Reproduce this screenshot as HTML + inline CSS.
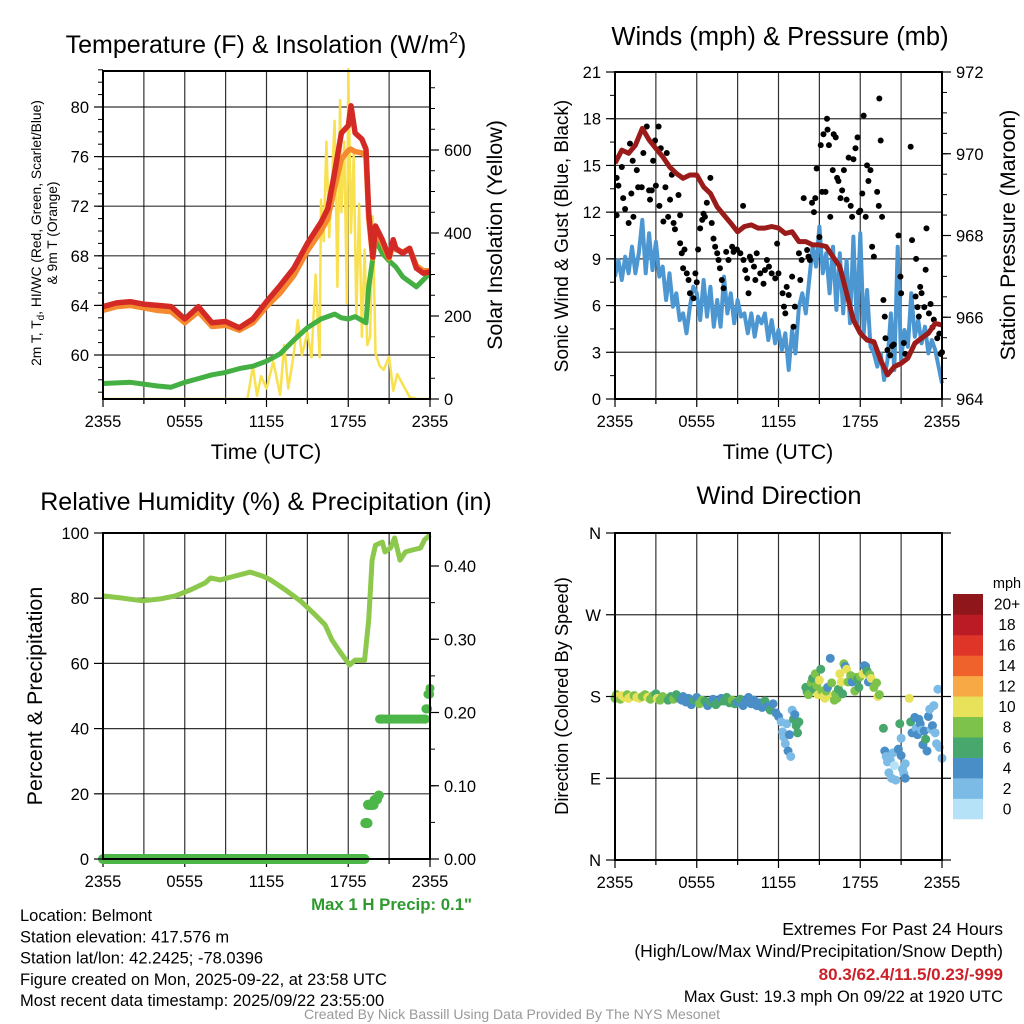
<!DOCTYPE html>
<html><head><meta charset="utf-8"><style>
html,body{margin:0;padding:0;background:#fff;}
svg{display:block;font-family:"Liberation Sans",Arial,sans-serif;}
</style></head><body>
<svg id="svg" width="1024" height="1024" viewBox="0 0 1024 1024" xmlns="http://www.w3.org/2000/svg">
<g id="g"></g>
</svg>
<script>
// ---- Panel 1 data (hours since 2355) ----
const tempHours=[0,1,2,3,4,5,6,7,8,9,10,11,12,13,14,15,16,16.5,17,17.5,18,18.2,18.5,19,19.3,19.5,19.8,20,20.5,21,21.3,21.5,22,22.5,23,23.5,24];
const tempRed=[63.9,64.2,64.3,64.1,64.0,63.9,62.9,63.9,62.6,62.7,62.2,62.9,64.3,65.6,67.0,69.0,70.7,71.8,74.7,77.9,78.5,80.1,77.9,77.4,76.6,71.5,67.9,70.4,69.3,67.9,69.3,68.6,68.2,68.6,67.0,66.6,66.7];
const tempOrange=[63.6,63.9,64.0,63.8,63.6,63.5,62.6,63.5,62.3,62.4,62.0,62.6,63.9,65.0,66.4,68.4,70.0,71.0,73.5,75.8,76.5,76.6,76.4,76.3,76.0,71.0,67.8,70.0,69.0,67.8,69.0,68.5,68.3,68.6,67.2,66.8,66.8];
const dewHours=[0,2,4,5,6,7,8,9,10,11,12,13,14,15,16,17,17.5,18,18.5,19,19.3,19.5,20,20.5,21,21.5,22,23,24];
const dewGreen=[57.7,57.8,57.5,57.4,57.8,58.1,58.4,58.6,58.9,59.1,59.5,60.1,61.2,62.2,62.9,63.3,63.0,62.9,63.1,62.8,62.6,65.5,69.3,68.2,67.6,67.1,66.3,65.5,66.6];
const solarHours=[0,10.6,11,11.3,11.6,12,12.5,13,13.3,13.6,14,14.3,14.6,15,15.3,15.6,15.9,16,16.2,16.4,16.6,16.8,17,17.2,17.4,17.5,17.7,17.9,18,18.2,18.4,18.6,18.8,19,19.2,19.4,19.6,19.8,20,20.3,20.6,21,21.3,21.6,22,22.5,23,24];
const solarW=[0,0,78,8,55,25,90,10,130,25,110,190,105,160,100,300,100,480,380,620,390,520,670,270,720,450,620,230,795,400,590,200,470,150,360,130,150,440,110,80,70,102,20,60,35,5,0,0];
const tempTicks=[60,64,68,72,76,80];
const solarTicks=[0,200,400,600];
const timeLabels=["2355","0555","1155","1755","2355"];
// ---- Panel 2 data ----
const presHours=[0,0.5,1,1.5,2,2.5,3,3.5,4,4.5,5,5.5,6,6.5,7,7.5,8,8.5,9,9.5,10,10.5,11,11.5,12,12.5,13,13.5,14,14.5,15,15.5,16,16.5,17,17.5,18,18.5,19,19.5,20,20.5,21,21.5,22,22.5,23,23.5,24];
const presMb=[969.77,970.09,970.01,970.21,970.62,970.34,970.13,969.93,969.68,969.52,969.40,969.48,969.48,969.19,969.03,968.70,968.50,968.30,968.09,968.22,968.26,968.18,968.18,968.22,968.18,968.05,968.09,967.85,967.85,967.77,967.77,967.73,967.48,967.24,966.59,965.93,965.61,965.44,965.40,964.95,964.59,964.79,964.87,965.00,965.36,965.49,965.61,965.85,965.81];
const windSpeed=[7.86,8.93,7.64,9.14,8.07,9.78,8.07,9.36,11.5,8.07,10.64,8.28,10.1,7.86,8.5,6.36,8.07,5.93,6.79,5.07,5.5,4.22,5.93,7.21,6.79,5.07,7.64,5.29,7.21,4.64,6.36,4.64,7.86,5.5,6.79,4.86,6.36,5.29,5.5,4.22,5.5,4.0,5.29,4.86,5.5,3.79,5.07,3.58,4.43,3.15,4.22,1.86,4.43,2.93,5.93,6.79,5.5,7.64,9.78,8.5,11.07,8.07,9.36,6.79,9.78,5.72,9.36,5.5,8.93,4.86,10.43,4.64,10.64,4.22,7.0,3.36,2.93,2.08,2.93,1.22,2.5,5.5,1.86,9.78,2.5,4.43,3.36,6.79,4.0,5.07,3.58,4.64,2.93,3.79,3.15,2.08,1.0];
const gustHours=[0.12,0.12,0.25,0.5,0.6,0.74,1.1,1.3,1.35,1.0,1.2,1.6,1.7,1.96,2.08,2.33,2.5,2.57,2.7,2.8,2.94,3.0,3.2,3.26,3.36,3.55,3.7,3.8,3.9,4.04,4.17,4.3,4.4,4.66,4.78,4.78,4.9,5.1,5.0,5.27,5.4,5.5,5.76,5.9,6.0,6.1,6.25,6.4,6.5,6.6,6.74,7.0,7.1,7.23,7.35,7.5,7.6,7.7,7.84,7.97,8.16,8.33,8.6,8.7,8.95,9.2,9.4,9.43,9.56,9.7,9.8,9.9,10.0,10.2,10.3,10.4,10.66,10.9,11.0,11.15,11.3,11.5,11.76,11.9,12.0,12.3,12.4,12.5,12.6,12.75,13.0,13.1,13.2,13.5,13.6,13.7,13.85,14.1,14.2,14.3,14.46,14.6,14.7,14.8,15.0,15.1,15.2,15.3,15.45,15.56,15.6,15.7,15.8,15.98,16.05,16.2,16.3,16.4,16.55,16.67,16.8,17.0,17.15,17.3,17.4,17.5,17.65,17.8,17.9,18.0,18.15,18.25,18.4,18.5,18.6,18.75,18.87,19.0,19.24,19.36,19.4,19.5,19.6,19.7,19.8,19.85,20.0,20.2,20.34,20.46,20.8,20.95,21.0,21.2,21.3,21.7,21.8,22.06,22.1,22.2,22.3,22.4,22.5,22.7,22.8,22.86,23.04,23.16,23.3,23.4,23.65,23.8,23.9,24.0];
const gustMph=[14.2,11.8,13.7,14.9,12.9,12.2,16.4,15.3,11.7,11.3,13.2,14.7,13.6,13.6,15.8,17.5,13.4,12.8,13.4,15.3,16.6,13.7,17.5,12.4,16.1,11.4,13.6,15.8,11.7,12.8,14.4,11.3,10.9,13.1,11.8,10.0,9.36,9.6,8.4,8.07,7.64,6.79,6.47,8.07,7.5,9.6,10.96,11.5,11.9,11.7,12.6,14.2,11.3,10.3,9.78,9.36,8.93,8.4,7.64,7.11,9.45,8.93,9.78,9.45,9.6,9.36,12.4,8.93,8.28,7.75,6.79,9.14,8.93,8.5,7.64,9.36,8.07,7.4,8.28,8.93,8.5,8.07,7.75,9.98,8.07,6.79,5.93,5.5,7.2,6.68,7.86,4.64,5.93,9.36,7.64,8.93,12.9,9.57,9.14,8.93,12.6,12.0,12.9,14.8,10.4,16.3,13.3,17.0,13.3,18.0,17.3,16.3,11.7,14.7,17.0,16.8,14.2,14.0,12.9,13.4,14.7,12.8,15.5,12.4,11.7,15.4,16.1,16.8,12.0,12.1,13.2,18.2,11.7,15.0,14.0,14.7,9.78,9.14,13.3,12.4,19.3,16.6,11.7,6.36,5.29,3.9,3.15,2.8,3.4,3.5,10.5,7.86,6.79,3.6,2.9,16.2,10.2,6.58,9.0,5.9,5.3,7.2,6.8,5.9,8.3,10.96,5.5,6.1,4.6,5.1,3.9,4.2,2.9,3.0];
const windTicks=[0,3,6,9,12,15,18,21];
const presTicks=[964,966,968,970,972];
// ---- Panel 3 data ----
const rhHours=[0,1.3,2.9,4.2,5.3,6.4,7.5,7.9,8.6,9.7,10.8,11.7,12.3,13.4,14.5,15.6,16.3,16.8,17.4,18.1,18.5,19.2,19.5,19.75,20,20.5,20.7,21.1,21.4,21.8,22.2,22.7,23.3,23.6,24];
const rhPct=[80.7,80.1,79.2,79.8,80.7,82.5,84.7,86.2,85.6,86.8,88,86.8,85.6,82.5,79.1,74.8,71.8,67.2,63.5,59.5,61,61,73.3,91.7,96.3,97.2,94.2,95.4,98.5,91.7,94.2,94.8,95.4,97.9,99.4];
const precipHours=[0,19.2,19.25,19.45,19.7,19.9,20.2,20.3,20.5,21,21.5,22,22.5,23,23.5,23.7,23.85,24];
const precipIn=[0,0,0.049,0.074,0.074,0.081,0.087,0.191,0.191,0.191,0.191,0.191,0.191,0.191,0.191,0.205,0.225,0.233];
const rhTicks=[0,20,40,60,80,100];
const precipTicks=[0,0.1,0.2,0.3,0.4];
const precipTickLabels=["0.00","0.10","0.20","0.30","0.40"];
// ---- Panel 4 data ----
const dirHours=[0,0.1,0.25,0.4,0.5,0.7,0.9,1.0,1.2,1.4,1.6,1.8,2.0,2.2,2.4,2.6,2.8,3.0,3.1,3.3,3.5,3.7,3.9,4.1,4.3,4.5,4.7,4.9,5.0,5.2,5.4,5.6,5.8,6.0,6.2,6.4,6.6,6.8,7.0,7.2,7.4,7.6,7.8,8.0,8.2,8.4,8.6,8.8,9.0,9.2,9.4,9.6,9.8,10.0,10.2,10.4,10.6,10.8,11.0,11.2,11.4,11.6,11.8,12.0,12.2,12.3,12.4,12.5,12.6,12.7,12.8,12.9,13.0,13.1,13.2,13.3,13.4,13.5,14.0,14.1,14.2,14.4,14.5,14.6,14.7,14.8,14.9,15.0,15.1,15.2,15.3,15.4,15.5,15.6,15.8,15.9,16.0,16.1,16.2,16.3,16.4,16.5,16.6,16.7,16.8,16.9,17.0,17.1,17.3,17.4,17.6,17.7,17.8,17.9,18.0,18.2,18.3,18.4,18.5,18.6,18.7,18.8,19.0,19.2,19.3,19.4,19.7,19.8,19.9,20.0,20.1,20.2,20.3,20.4,20.5,20.6,20.8,20.9,21.0,21.0,21.1,21.2,21.3,21.3,21.6,21.7,21.8,22.0,22.1,22.2,22.3,22.4,22.5,22.6,22.7,22.8,22.9,23.0,23.1,23.2,23.3,23.4,23.5,23.6,23.7,23.8,24.0];
const dirDeg=[178,182,180,177,181,179,182,178,180,181,179,178,180,182,179,177,181,183,178,176,180,178,176,180,177,182,178,176,180,174,178,171,176,179,172,176,175,170,174,177,171,174,178,175,179,173,176,172,174,177,170,175,179,172,176,170,173,168,175,169,165,172,162,158,152,141,135,128,150,120,138,114,165,155,160,148,140,152,190,185,182,195,200,188,205,192,182,198,210,186,180,178,186,190,222,195,180,176,183,178,188,205,196,183,216,213,210,196,203,196,186,201,199,190,202,205,214,213,208,196,204,200,190,195,180,182,145,120,114,108,96,110,90,118,104,88,122,150,134,115,100,95,106,90,178,152,140,157,145,138,155,150,143,127,142,133,120,158,166,144,148,170,140,128,188,124,112];
const dirSpeed=[8,9,10,9,10,11,9,10,11,9,10,11,9,8,10,9,8,7,10,9,8,9,7,6,8,7,6,5,5,4,5,4,6,5,8,9,7,5,6,5,7,6,5,7,6,6,8,7,5,6,5,5,4,4,5,5,4,5,6,5,7,4,5,4,3,2,3,3,2,4,4,3,2,6,4,6,7,6,6,7,9,8,6,6,9,8,10,10,6,8,10,10,8,4,4,9,10,8,8,9,7,11,10,6,8,4,11,9,8,4,8,9,7,6,8,10,4,4,6,4,8,10,8,9,11,8,6,4,2,3,2,3,2,3,1,2,4,6,3,4,3,2,3,4,11,6,4,5,3,4,4,5,3,4,4,6,4,5,3,3,4,2,2,3,3,2,2];
const dirLabels=["N","E","S","W","N"];
const cbLabels=["0","2","4","6","8","10","12","14","16","18","20+"];
const cbColors=["#b5e2f7","#7bbbe5","#4a8ec7","#47a76d","#7dc24b","#e8e15a","#f7a945","#ef622c","#de3528","#bb1b24","#8f161b"];

const NS="http://www.w3.org/2000/svg";
const root=document.getElementById('g');
function mk(tag,attrs,parent,txt){const e=document.createElementNS(NS,tag);for(const k in attrs)e.setAttribute(k,attrs[k]);if(txt!==undefined)e.textContent=txt;(parent||root).appendChild(e);return e;}
function linScale(d0,d1,r0,r1){return v=>r0+(v-d0)/(d1-d0)*(r1-r0);}
function pathFrom(xs,ys,sx,sy){return xs.map((t,i)=>(i?'L':'M')+sx(t).toFixed(1)+','+sy(ys[i]).toFixed(1)).join('');}
function text(x,y,s,size,anchor,parent,extra){const t=mk('text',Object.assign({x:x,y:y,'font-size':size,'text-anchor':anchor||'middle',fill:'#000'},extra||{}),parent,s);return t;}

function frame(name,x0,x1,y0,y1,hGrid,sy){
  const g=mk('g',{},root);
  
  
  const sx=linScale(0,24,x0,x1);
  for(let h=3;h<24;h+=3){const l=mk('line',{x1:sx(h),x2:sx(h),y1:y0,y2:y1,stroke:'#000','stroke-width':1.2,'stroke-opacity':0.8},g);}
  hGrid.forEach(v=>{const y=sy(v);if(Math.abs(y-y0)<1||Math.abs(y-y1)<1)return;const l=mk('line',{x1:x0,x2:x1,y1:y,y2:y,stroke:'#000','stroke-width':1.2,'stroke-opacity':0.8},g);});
  for(let h=0;h<=24;h+=3){const l=mk('line',{x1:sx(h),x2:sx(h),y1:y1,y2:y1+(h%6==0?8:5),stroke:'#000','stroke-width':1.2},g);}
  timeLabels.forEach((s,i)=>{const t=text(sx(i*6),y1+28,s,16.5,'middle',g);});
  return {g,sx};
}
function box(g,x0,x1,y0,y1){const r=mk('rect',{x:x0,y:y0,width:x1-x0,height:y1-y0,fill:'none',stroke:'#000','stroke-width':2},g);}
function yTicks(g,x,vals,labels,sy,side,minorStep,minorRange){
  const dir=side==='left'?-1:1;
  vals.forEach((v,i)=>{const y=sy(v);const l=mk('line',{x1:x,x2:x+dir*9,y1:y,y2:y,stroke:'#000','stroke-width':1.2},g);
    const t=text(x+dir*14,y+6,labels[i],16.5,side==='left'?'end':'start',g);});
  if(minorStep){for(let v=minorRange[0];v<=minorRange[1]+1e-9;v+=minorStep){const y=sy(v);const l=mk('line',{x1:x,x2:x+dir*5,y1:y,y2:y,stroke:'#000','stroke-width':1},g);}}
}

// ===== Panel 1 =====
(function(){
  const x0=103,x1=430,y0=71,y1=399;
  const sy=linScale(60,80,355,107);
  const sr=linScale(0,600,399,150);
  const {g,sx}=frame('temperature',x0,x1,y0,y1,tempTicks,sy);
  const clip=mk('clipPath',{id:'c1'},g);mk('rect',{x:x0,y:y0-20,width:x1-x0+2,height:y1-y0+20},clip);
  const d=mk('g',{'clip-path':'url(#c1)'},g);
  let p=mk('path',{d:pathFrom(solarHours,solarW,sx,sr),fill:'none',stroke:'#f9e04f','stroke-width':2.5,'stroke-linejoin':'round'},d);
  p=mk('path',{d:pathFrom(dewHours,dewGreen,sx,sy),fill:'none',stroke:'#44b044','stroke-width':5,'stroke-linejoin':'round'},d);
  p=mk('path',{d:pathFrom(tempHours,tempOrange,sx,sy),fill:'none',stroke:'#f58a2e','stroke-width':5.5,'stroke-linejoin':'round'},d);
  p=mk('path',{d:pathFrom(tempHours,tempRed,sx,sy),fill:'none',stroke:'#d42a26','stroke-width':5.5,'stroke-linejoin':'round'},d);
  box(g,x0,x1,y0,y1);
  yTicks(g,x0,tempTicks,tempTicks.map(String),sy,'left',1,[57,83]);
  yTicks(g,x1,solarTicks,solarTicks.map(String),sr,'right',50,[0,750]);
  let t=text(266,53,'Temperature (F) & Insolation (W/m',25,'middle');
  mk('tspan',{'font-size':16,dy:-10},t,'2');mk('tspan',{dy:10},t,')');
  t=mk('text',{transform:'translate(41,233) rotate(-90)','font-size':13.8,'text-anchor':'middle',fill:'#000'},root);
  
  t.innerHTML='2m T, T<tspan font-size="10" dy="3">d</tspan><tspan dy="-3">, HI/WC (Red, Green, Scarlet/Blue)</tspan>';
  t=mk('text',{transform:'translate(57,233) rotate(-90)','font-size':13.8,'text-anchor':'middle',fill:'#000'},root,'& 9m T (Orange)');
  
  t=mk('text',{transform:'translate(502,235) rotate(-90)','font-size':21.5,'text-anchor':'middle',fill:'#000'},root,'Solar Insolation (Yellow)');
  
  t=text(266,459,'Time (UTC)',21.3,'middle');
})();

// ===== Panel 2 =====
(function(){
  const x0=615,x1=942,y0=72,y1=399;
  const sy=linScale(0,21,399,72);
  const sp=linScale(964,972,399,72);
  const {g,sx}=frame('winds',x0,x1,y0,y1,windTicks,sy);
  const clip=mk('clipPath',{id:'c2'},g);mk('rect',{x:x0,y:y0,width:x1-x0+3,height:y1-y0},clip);
  const d=mk('g',{'clip-path':'url(#c2)'},g);
  const wh=windSpeed.map((v,i)=>i*0.25);
  let p=mk('path',{d:pathFrom(wh,windSpeed,sx,sy),fill:'none',stroke:'#4c97d1','stroke-width':4,'stroke-linejoin':'round'},d);
  gustHours.forEach((h,i)=>{const c=mk('circle',{cx:sx(h),cy:sy(gustMph[i]),r:3,fill:'#000'},d);});
  p=mk('path',{d:pathFrom(presHours,presMb,sx,sp),fill:'none',stroke:'#9b1b1b','stroke-width':5,'stroke-linejoin':'round'},d);
  box(g,x0,x1,y0,y1);
  yTicks(g,x0,windTicks,windTicks.map(String),sy,'left',1.5,[0,21]);
  yTicks(g,x1,presTicks,presTicks.map(String),sp,'right',0.5,[964,972]);
  let t=text(780,45,'Winds (mph) & Pressure (mb)',25.5,'middle');
  t=mk('text',{transform:'translate(568,236) rotate(-90)','font-size':19,'text-anchor':'middle',fill:'#000'},root,'Sonic Wind & Gust (Blue, Black)');
  
  t=mk('text',{transform:'translate(1015,235) rotate(-90)','font-size':21.4,'text-anchor':'middle',fill:'#000'},root,'Station Pressure (Maroon)');
  
  t=text(778,459,'Time (UTC)',21.3,'middle');
})();

// ===== Panel 3 =====
(function(){
  const x0=103,x1=430,y0=533,y1=859;
  const sy=linScale(0,100,859,533);
  const sr=linScale(0,0.4,859,566);
  const {g,sx}=frame('humidity',x0,x1,y0,y1,rhTicks,sy);
  let p=mk('path',{d:pathFrom(rhHours,rhPct,sx,sy),fill:'none',stroke:'#8cc84b','stroke-width':5,'stroke-linejoin':'round'},g);
  p=mk('line',{x1:sx(0),x2:sx(precipHours[1]),y1:sr(0),y2:sr(0),stroke:'#4cb649','stroke-width':10,'stroke-linecap':'round'},g);
  precipHours.forEach((h,i)=>{if(i<2)return;
    const steps=i<precipHours.length-1?6:1;const h2=i<precipHours.length-1?precipHours[i+1]:h;
    for(let k=0;k<steps;k++){const hh=h+(h2-h)*k/steps;const c=mk('circle',{cx:sx(hh),cy:sr(precipIn[i]),r:i<5?5:4.5,fill:'#4cb649'},g);}
  });
  box(g,x0,x1,y0,y1);
  yTicks(g,x0,rhTicks,rhTicks.map(String),sy,'left',null);
  yTicks(g,x1,precipTicks,precipTickLabels,sr,'right',0.05,[0,0.4]);
  let t=text(266,510,'Relative Humidity (%) & Precipitation (in)',25,'middle');
  t=mk('text',{transform:'translate(42,696) rotate(-90)','font-size':21.5,'text-anchor':'middle',fill:'#000'},root,'Percent & Precipitation');
  
  t=text(472,910,'Max 1 H Precip: 0.1"',16.8,'end',root,{fill:'#2e9a2e','font-weight':'bold'});
})();

// ===== Panel 4 =====
(function(){
  const x0=615,x1=942,y0=533,y1=860;
  const sy=linScale(0,360,860,533);
  const dirVals=[0,90,180,270,360];
  const {g,sx}=frame('wind-direction',x0,x1,y0,y1,dirVals,sy);
  dirHours.forEach((h,i)=>{const bin=Math.min(10,Math.floor(dirSpeed[i]/2));
    const c=mk('circle',{cx:sx(h),cy:sy(dirDeg[i]),r:4.5,fill:cbColors[bin]},g);});
  box(g,x0,x1,y0,y1);
  yTicks(g,x0,dirVals,dirLabels,sy,'left',null);
  dirVals.forEach(v=>{const l=mk('line',{x1:x1,x2:x1+9,y1:sy(v),y2:sy(v),stroke:'#000','stroke-width':1.2},g);});
  let t=text(779,504,'Wind Direction',25.4,'middle');
  t=mk('text',{transform:'translate(568,696) rotate(-90)','font-size':18.3,'text-anchor':'middle',fill:'#000'},root,'Direction (Colored By Speed)');
  
  const cb=mk('g',{},root);
  const bh=(819-594)/11;
  cbColors.forEach((c,i)=>{const yy=819-(i+1)*bh;const r=mk('rect',{x:953,y:yy,width:30,height:bh+0.3,fill:c},cb);
    const tt=text(1007,yy+bh/2+5.5,cbLabels[i],15.5,'middle',cb);});
  t=text(1007,588,'mph',14.5,'middle',cb);
})();

// ===== Footer text =====
(function(){
  const lines=["Location: Belmont","Station elevation: 417.576 m","Station lat/lon: 42.2425; -78.0396","Figure created on Mon, 2025-09-22, at 23:58 UTC","Most recent data timestamp: 2025/09/22 23:55:00"];
  const names=["location-text","elevation-text","latlon-text","created-text","timestamp-text"];
  lines.forEach((s,i)=>{const t=text(20,921+i*21.3,s,16.5,'start');});
  let t=text(1003,935,'Extremes For Past 24 Hours',17.5,'end');
  t=text(1003,957,'(High/Low/Max Wind/Precipitation/Snow Depth)',17.5,'end');
  t=text(1003,980,'80.3/62.4/11.5/0.23/-999',17,'end',root,{fill:'#cc2128','font-weight':'bold'});
  t=text(1003,1002,'Max Gust: 19.3 mph On 09/22 at 1920 UTC',16.5,'end');
  t=text(512,1019,'Created By Nick Bassill Using Data Provided By The NYS Mesonet',14,'middle',root,{fill:'#999'});
})();
</script>
</body></html>
